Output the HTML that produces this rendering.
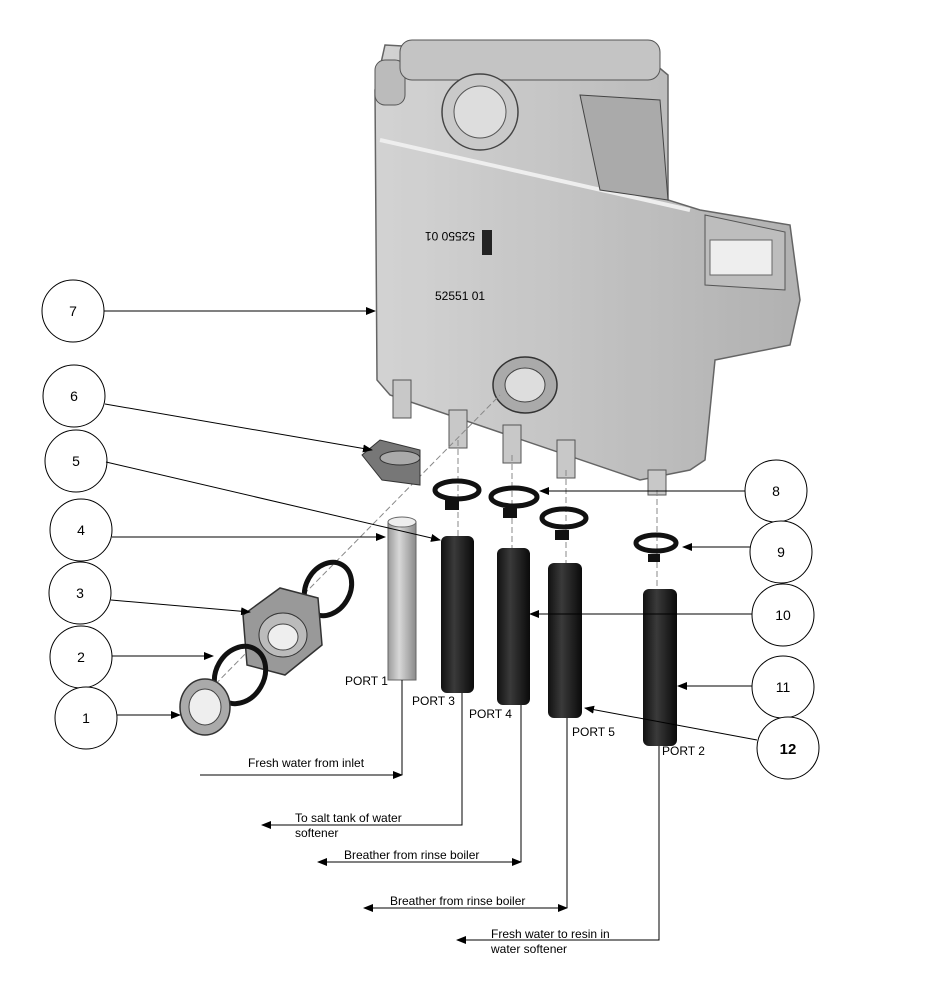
<!DOCTYPE html>
<html><head><meta charset="utf-8"><style>
html,body{margin:0;padding:0;background:#fff}
svg{display:block}
text{font-family:"Liberation Sans",Arial,sans-serif;font-size:12px;fill:#000}
</style></head><body>
<svg width="930" height="984" viewBox="0 0 930 984" xmlns="http://www.w3.org/2000/svg">
<defs>
<marker id="a" markerWidth="10" markerHeight="8" refX="9" refY="4" orient="auto" markerUnits="userSpaceOnUse"><path d="M0,0 L10,4 L0,8 z" fill="#000"/></marker>
<marker id="s" markerWidth="10" markerHeight="8" refX="1" refY="4" orient="auto" markerUnits="userSpaceOnUse"><path d="M10,0 L0,4 L10,8 z" fill="#000"/></marker>
<linearGradient id="tg" x1="0" x2="1"><stop offset="0" stop-color="#cfcfcf"/><stop offset="1" stop-color="#a9a9a9"/></linearGradient>
<linearGradient id="bt" x1="0" x2="1"><stop offset="0" stop-color="#111"/><stop offset="0.4" stop-color="#3a3a3a"/><stop offset="1" stop-color="#0a0a0a"/></linearGradient>
<linearGradient id="gt" x1="0" x2="1"><stop offset="0" stop-color="#9a9a9a"/><stop offset="0.4" stop-color="#d8d8d8"/><stop offset="1" stop-color="#8a8a8a"/></linearGradient>
</defs>

<!-- Tank -->
<path d="M385,45 L650,60 L668,75 L668,200 L700,210 L790,225 L800,300 L790,345 L715,360 L705,460 L690,470 L640,480 L390,395 L377,380 L375,90 Z" fill="url(#tg)" stroke="#555" stroke-width="1.5" opacity="0.9"/>
<path d="M380,140 L690,210" stroke="#eee" stroke-width="4"/>
<rect x="375" y="60" width="30" height="45" rx="10" fill="#bbb" stroke="#555"/>
<rect x="400" y="40" width="260" height="40" rx="12" fill="#c4c4c4" stroke="#555"/>
<circle cx="480" cy="112" r="38" fill="#c9c9c9" stroke="#444" stroke-width="1.5"/>
<circle cx="480" cy="112" r="26" fill="#ddd" stroke="#555"/>
<path d="M580,95 L660,100 L668,200 L600,190 Z" fill="#aaa" stroke="#444"/>
<path d="M705,215 L785,232 L785,290 L705,285 Z" fill="#bdbdbd" stroke="#555"/>
<rect x="710" y="240" width="62" height="35" fill="#eee" stroke="#666"/>
<ellipse cx="525" cy="385" rx="32" ry="28" fill="#aaa" stroke="#333" stroke-width="1.5"/>
<ellipse cx="525" cy="385" rx="20" ry="17" fill="#ddd" stroke="#444"/>
<rect x="482" y="230" width="10" height="25" fill="#222"/>
<text x="435" y="240" transform="rotate(180 455 236)" font-size="11">52550 01</text>
<text x="435" y="300" font-size="11" fill="#555">52551 01</text>
<!-- stubs -->
<g fill="#c8c8c8" stroke="#555">
<rect x="393" y="380" width="18" height="38"/><rect x="449" y="410" width="18" height="38"/>
<rect x="503" y="425" width="18" height="38"/><rect x="557" y="440" width="18" height="38"/>
<rect x="648" y="470" width="18" height="25"/>
</g>
<!-- dashed centre lines -->
<g stroke="#888" stroke-dasharray="6,3" fill="none">
<path d="M190,710 L500,395"/><path d="M458,440 L458,540"/><path d="M512,455 L512,550"/><path d="M566,470 L566,565"/><path d="M657,490 L657,590"/>
</g>
<!-- clip 6 -->
<path d="M362,455 L380,440 L420,450 L420,485 L382,480 Z" fill="#777" stroke="#333"/>
<ellipse cx="400" cy="458" rx="20" ry="7" fill="#aaa" stroke="#333"/>
<!-- clamps 8,9 -->
<g fill="none" stroke="#111" stroke-width="5">
<ellipse cx="457" cy="490" rx="22" ry="9"/><ellipse cx="514" cy="497" rx="23" ry="9"/>
<ellipse cx="564" cy="518" rx="22" ry="9"/><ellipse cx="656" cy="543" rx="20" ry="8"/>
</g>
<g fill="#111"><rect x="445" y="500" width="14" height="10"/><rect x="503" y="508" width="14" height="10"/><rect x="555" y="530" width="14" height="10"/><rect x="648" y="554" width="12" height="8"/></g>
<!-- nuts / orings -->
<ellipse cx="328" cy="589" rx="22" ry="28" transform="rotate(30 328 589)" fill="none" stroke="#111" stroke-width="5"/>
<path d="M243,615 L280,588 L318,598 L322,645 L285,675 L247,665 Z" fill="#999" stroke="#333" stroke-width="1.5"/>
<ellipse cx="283" cy="635" rx="24" ry="22" fill="#bbb" stroke="#333"/>
<ellipse cx="283" cy="637" rx="15" ry="13" fill="#eee" stroke="#444"/>
<ellipse cx="240" cy="675" rx="24" ry="30" transform="rotate(30 240 675)" fill="none" stroke="#111" stroke-width="5"/>
<ellipse cx="205" cy="707" rx="25" ry="28" fill="#aaa" stroke="#333" stroke-width="1.5"/>
<ellipse cx="205" cy="707" rx="16" ry="18" fill="#eee" stroke="#444"/>
<!-- tubes -->
<rect x="388" y="522" width="28" height="158" fill="url(#gt)" stroke="#666"/>
<ellipse cx="402" cy="522" rx="14" ry="5" fill="#eee" stroke="#666"/>
<rect x="441" y="536" width="33" height="157" rx="6" fill="url(#bt)"/>
<rect x="497" y="548" width="33" height="157" rx="6" fill="url(#bt)"/>
<rect x="548" y="563" width="34" height="155" rx="6" fill="url(#bt)"/>
<rect x="643" y="589" width="34" height="157" rx="6" fill="url(#bt)"/>

<!-- callout circles -->
<g fill="#fff" stroke="#000" stroke-width="1">
<circle cx="73" cy="311" r="31"/><circle cx="74" cy="396" r="31"/><circle cx="76" cy="461" r="31"/>
<circle cx="81" cy="530" r="31"/><circle cx="80" cy="593" r="31"/><circle cx="81" cy="657" r="31"/>
<circle cx="86" cy="718" r="31"/>
<circle cx="776" cy="491" r="31"/><circle cx="781" cy="552" r="31"/><circle cx="783" cy="615" r="31"/>
<circle cx="783" cy="687" r="31"/><circle cx="788" cy="748" r="31"/>
</g>
<g font-size="14" text-anchor="middle">
<text x="73" y="316" style="font-size:14px">7</text><text x="74" y="401" style="font-size:14px">6</text>
<text x="76" y="466" style="font-size:14px">5</text><text x="81" y="535" style="font-size:14px">4</text>
<text x="80" y="598" style="font-size:14px">3</text><text x="81" y="662" style="font-size:14px">2</text>
<text x="86" y="723" style="font-size:14px">1</text>
<text x="776" y="496" style="font-size:14px">8</text><text x="781" y="557" style="font-size:14px">9</text>
<text x="783" y="620" style="font-size:14px">10</text><text x="783" y="692" style="font-size:14px">11</text>
<text x="788" y="754" style="font-size:15px;font-weight:bold">12</text>
</g>
<!-- leaders -->
<g stroke="#000" stroke-width="1" fill="none" marker-end="url(#a)">
<path d="M104,311 L375,311"/><path d="M105,404 L372,450"/><path d="M106,462 L440,540"/>
<path d="M112,537 L385,537"/><path d="M111,600 L250,612"/><path d="M112,656 L213,656"/>
<path d="M117,715 L180,715"/>
<path d="M745,491 L540,491"/><path d="M750,547 L683,547"/><path d="M752,614 L530,614"/>
<path d="M752,686 L678,686"/><path d="M757,740 L585,708"/>
</g>
<!-- ports -->
<g stroke="#000" stroke-width="1" fill="none">
<path d="M402,680 L402,775"/><path d="M200,775 L402,775" marker-end="url(#a)"/>
<path d="M462,693 L462,825 L262,825" marker-end="url(#a)"/>
<path d="M521,705 L521,862"/><path d="M318,862 L521,862" marker-start="url(#s)" marker-end="url(#a)"/>
<path d="M567,718 L567,908"/><path d="M364,908 L567,908" marker-start="url(#s)" marker-end="url(#a)"/>
<path d="M659,746 L659,940 L457,940" marker-end="url(#a)"/>
</g>
<text x="345" y="685">PORT 1</text><text x="412" y="705">PORT 3</text><text x="469" y="718">PORT 4</text>
<text x="572" y="736">PORT 5</text><text x="662" y="755">PORT 2</text>
<text x="248" y="767">Fresh water from inlet</text>
<text x="295" y="822">To salt tank of water</text><text x="295" y="837">softener</text>
<text x="344" y="859">Breather from rinse boiler</text>
<text x="390" y="905">Breather from rinse boiler</text>
<text x="491" y="938">Fresh water to resin in</text><text x="491" y="953">water softener</text>
</svg>
</body></html>
